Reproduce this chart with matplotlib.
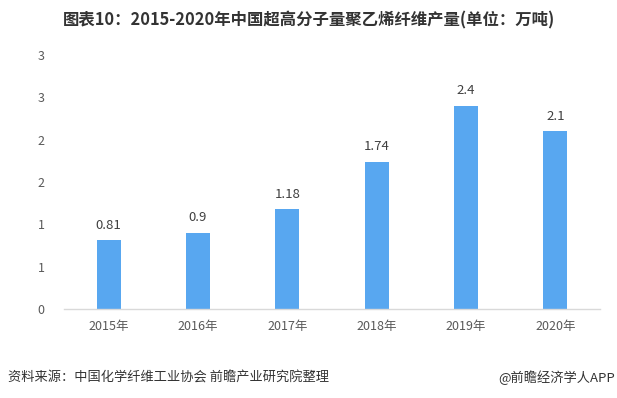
import matplotlib
matplotlib.use("Agg")
import matplotlib.pyplot as plt
import numpy as np

plt.rcParams['font.family'] = ['Noto Sans CJK SC', 'DejaVu Sans']

categories = ["2015年", "2016年", "2017年", "2018年", "2019年", "2020年"]
values = [0.81, 0.9, 1.18, 1.74, 2.4, 2.1]
bar_heights = [0.81, 0.9, 1.18, 1.74, 2.4, 2.1]
yticks = [0, 0.5, 1, 1.5, 2, 2.5, 3]
ytick_labels = ["0", "1", "1", "2", "2", "3", "3"]
value_labels = ["0.81", "0.9", "1.18", "1.74", "2.4", "2.1"]

fig = plt.figure(figsize=(6.17, 3.98), dpi=100)
ax = fig.add_axes([64/617, 1-309/398, (600-64)/617, (309-55)/398])

x = np.arange(len(categories))
ax.bar(x, bar_heights, width=0.27, color="#58A7F0", zorder=2)
for xi, h, lab in zip(x, bar_heights, value_labels):
    ax.text(xi, h + 0.1, lab, ha="center", va="bottom", fontsize=9.5, color="#404040")

ax.set_xlim(-0.5, len(categories) - 0.5)
ax.set_ylim(0, 3)
ax.set_yticks(yticks)
ax.set_yticklabels(ytick_labels)
ax.set_xticks(x)
ax.set_xticklabels(categories)
ax.tick_params(axis="both", length=0, labelsize=9, colors="#595959")
ax.tick_params(axis="y", pad=14)
ax.tick_params(axis="x", pad=8)
for s in ["top", "right", "left"]:
    ax.spines[s].set_visible(False)
ax.spines["bottom"].set_color("#D9D9D9")
ax.spines["bottom"].set_linewidth(1.0)

fig.text(308.5/617, 1-20/398, "图表10：2015-2020年中国超高分子量聚乙烯纤维产量(单位：万吨)",
         ha="center", va="center", fontsize=11.8, fontweight="bold", color="#333333")
fig.text(8/617, 1-378/398, "资料来源：中国化学纤维工业协会 前瞻产业研究院整理",
         ha="left", va="center", fontsize=9.5, color="#333333")
fig.text(615/617, 1-378/398, "@前瞻经济学人APP",
         ha="right", va="center", fontsize=9.5, color="#333333")

fig.savefig("out.png", dpi=100)
